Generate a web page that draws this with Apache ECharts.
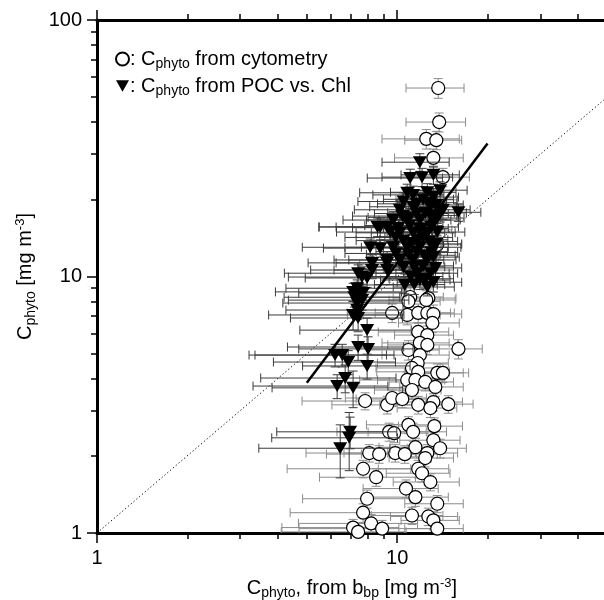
<!DOCTYPE html>
<html>
<head>
<meta charset="utf-8">
<script src="https://cdn.jsdelivr.net/npm/echarts@6/dist/echarts.min.js"></script>
<style>
    html, body { margin: 0; padding: 0; background: #fff; }
    #main { width: 604px; height: 600px; }
</style>
</head>
<body>
<div id="main"></div>
<script>
// rows: [x, y, x error, y error]
const cytoRows = [
    [13.7, 54.3, 3.0, 4.8], [13.8, 40.0, 3.1, 3.4], [12.5, 34.4, 3.6, 3.0], [13.5, 34.0, 2.9, 2.8],
    [13.2, 29.0, 3.4, 2.4], [14.2, 24.4, 3.2, 2.0], [12.9, 19.9, 3.0, 1.6], [11.9, 15.2, 3.3, 1.3],
    [13.6, 13.3, 2.8, 1.1], [10.6, 11.1, 3.1, 0.9], [12.4, 10.6, 3.0, 0.9], [11.05, 8.32, 3.2, 0.7],
    [12.7, 8.24, 3.0, 0.7], [9.62, 7.21, 2.8, 0.6], [10.8, 7.08, 3.1, 0.6], [11.75, 7.21, 3.3, 0.6],
    [12.6, 7.21, 2.9, 0.6], [13.2, 7.14, 3.2, 0.6], [13.1, 6.59, 3.0, 0.55], [11.75, 6.08, 3.1, 0.5],
    [12.6, 5.91, 2.8, 0.5], [11.9, 5.51, 3.0, 0.45], [12.6, 5.41, 3.3, 0.45], [10.9, 5.17, 2.9, 0.45],
    [16.0, 5.22, 3.2, 0.45], [11.9, 4.94, 3.0, 0.4], [11.7, 4.60, 3.1, 0.4], [11.2, 4.40, 2.7, 0.35],
    [11.75, 4.25, 3.2, 0.35], [13.6, 4.21, 3.0, 0.35], [14.2, 4.21, 3.1, 0.35], [10.8, 3.95, 3.3, 0.3],
    [11.5, 3.95, 2.9, 0.3], [12.4, 3.88, 3.0, 0.3], [13.4, 3.71, 3.2, 0.3], [11.2, 3.61, 2.8, 0.3],
    [7.82, 3.27, 3.0, 0.25], [9.26, 3.16, 3.2, 0.25], [9.62, 3.36, 2.9, 0.25], [10.4, 3.33, 3.1, 0.25],
    [11.75, 3.16, 3.0, 0.25], [13.2, 3.24, 3.3, 0.25], [12.9, 3.07, 2.9, 0.25], [14.8, 3.18, 3.1, 0.25],
    [10.9, 2.64, 3.0, 0.2], [13.3, 2.61, 3.2, 0.2], [9.4, 2.48, 3.1, 0.2], [9.77, 2.45, 2.9, 0.2],
    [11.3, 2.48, 3.3, 0.2], [13.2, 2.30, 3.0, 0.18], [13.9, 2.14, 3.1, 0.18], [11.5, 2.16, 2.8, 0.18],
    [9.85, 2.05, 3.2, 0.16], [10.6, 2.03, 3.0, 0.16], [8.07, 2.05, 3.1, 0.16], [8.71, 2.03, 2.9, 0.16],
    [12.6, 2.05, 3.3, 0.16], [12.4, 1.96, 3.0, 0.15], [7.7, 1.78, 3.4, 0.14], [8.51, 1.65, 3.0, 0.13],
    [11.75, 1.78, 3.1, 0.14], [12.1, 1.71, 2.9, 0.13], [12.9, 1.58, 3.2, 0.12], [10.7, 1.49, 3.0, 0.12],
    [11.5, 1.38, 3.3, 0.11], [7.94, 1.36, 3.1, 0.11], [13.6, 1.30, 3.0, 0.1], [7.7, 1.20, 3.3, 0.1],
    [11.2, 1.17, 3.0, 0.09], [12.7, 1.16, 3.2, 0.09], [13.2, 1.12, 2.9, 0.09], [8.19, 1.09, 3.5, 0.09],
    [7.13, 1.05, 3.0, 0.08], [8.91, 1.04, 4.2, 0.08], [13.6, 1.04, 3.0, 0.08], [7.41, 1.01, 3.3, 0.08],
    [10.9, 8.0, 3.0, 0.7], [12.5, 8.1, 3.1, 0.7],
]

const pocRows = [
    [11.9, 27.9, 3.0, 2.2], [12.1, 24.4, 3.2, 2.0], [13.2, 24.9, 2.9, 2.0], [11.05, 24.2, 3.1, 2.0],
    [10.8, 21.2, 3.3, 1.7], [11.3, 20.8, 3.0, 1.7], [12.6, 21.3, 3.1, 1.7], [13.2, 20.4, 2.8, 1.6],
    [13.9, 21.7, 3.2, 1.7], [10.2, 18.2, 3.0, 1.5], [11.3, 18.7, 3.2, 1.5], [12.9, 18.7, 2.9, 1.5],
    [13.9, 17.7, 3.1, 1.4], [16.0, 17.8, 3.0, 1.4], [14.2, 18.2, 3.3, 1.5], [9.7, 16.6, 3.1, 1.3],
    [10.8, 16.6, 2.9, 1.3], [11.9, 16.6, 3.2, 1.3], [13.2, 16.6, 3.0, 1.3], [12.4, 17.7, 3.1, 1.4],
    [8.78, 15.6, 3.3, 1.3], [9.26, 15.6, 3.0, 1.3], [8.6, 15.6, 3.1, 1.3], [9.48, 14.9, 3.2, 1.2],
    [10.2, 14.8, 2.9, 1.2], [11.3, 14.8, 3.1, 1.2], [12.6, 14.8, 3.0, 1.2], [13.6, 14.9, 3.2, 1.2],
    [11.75, 13.9, 3.0, 1.1], [8.13, 13.0, 3.3, 1.0], [8.78, 12.9, 3.1, 1.0], [9.7, 13.0, 3.0, 1.0],
    [10.8, 13.0, 3.2, 1.0], [11.9, 13.0, 2.9, 1.0], [13.2, 13.0, 3.1, 1.0], [8.25, 11.3, 3.2, 0.9],
    [9.26, 11.3, 3.0, 0.9], [9.26, 11.6, 3.1, 0.9], [10.2, 11.6, 3.3, 0.9], [11.3, 11.6, 3.0, 0.9],
    [12.6, 11.6, 3.1, 0.9], [13.2, 11.9, 2.9, 0.9], [7.41, 10.3, 3.2, 0.8], [7.94, 9.87, 3.0, 0.8],
    [9.26, 10.6, 3.1, 0.8], [11.7, 10.3, 3.2, 0.8], [12.9, 10.3, 3.0, 0.8], [11.9, 9.69, 3.1, 0.8],
    [12.6, 9.10, 2.9, 0.7], [10.6, 9.27, 3.0, 0.7], [7.64, 9.95, 3.3, 0.8], [7.13, 8.71, 3.2, 0.7],
    [7.7, 8.63, 3.0, 0.7], [7.36, 9.0, 3.1, 0.7], [7.64, 8.09, 3.3, 0.7], [7.2, 8.3, 3.0, 0.7],
    [7.36, 7.88, 3.2, 0.6], [7.36, 7.4, 3.1, 0.6], [7.13, 7.08, 3.4, 0.9], [7.41, 6.89, 3.0, 0.8],
    [7.94, 6.18, 3.2, 0.7], [7.41, 5.31, 3.1, 0.6], [8.0, 5.22, 3.3, 0.6], [6.21, 4.94, 3.0, 0.5],
    [6.56, 4.94, 3.2, 0.5], [6.87, 4.64, 3.0, 0.5], [7.94, 4.48, 3.1, 0.5], [6.71, 4.02, 3.2, 0.5],
    [6.31, 3.74, 3.0, 0.4], [7.13, 3.68, 3.3, 0.6], [6.97, 2.48, 3.0, 0.35], [6.92, 2.35, 3.1, 0.6],
    [6.46, 2.14, 3.0, 0.5],
    [10.5, 19.6, 3.1, 1.6], [11.6, 19.2, 3.0, 1.5], [12.2, 20.0, 3.2, 1.6], [12.9, 19.4, 2.9, 1.5],
    [13.5, 19.0, 3.1, 1.5], [10.4, 17.2, 3.3, 1.4], [11.0, 17.0, 3.0, 1.4], [11.6, 17.6, 3.2, 1.4],
    [12.9, 17.3, 2.9, 1.4], [13.6, 16.9, 3.1, 1.3], [10.1, 15.5, 3.0, 1.2], [11.0, 15.8, 3.2, 1.3],
    [11.9, 15.4, 2.9, 1.2], [12.2, 14.2, 3.1, 1.1], [13.0, 15.6, 3.0, 1.2], [10.5, 13.8, 3.2, 1.1],
    [11.2, 13.5, 3.0, 1.1], [12.8, 13.7, 3.1, 1.1], [13.5, 13.4, 2.9, 1.1], [9.9, 12.3, 3.2, 1.0],
    [10.9, 12.2, 3.0, 1.0], [11.6, 12.5, 3.1, 1.0], [12.3, 12.1, 3.3, 1.0], [13.0, 12.4, 2.9, 1.0],
    [10.5, 10.9, 3.1, 0.9], [11.4, 10.9, 3.0, 0.9], [12.2, 11.0, 3.2, 0.9], [13.4, 10.8, 3.0, 0.9],
    [11.1, 10.0, 3.1, 0.8], [12.4, 9.8, 3.0, 0.8], [13.2, 9.5, 3.2, 0.8], [11.4, 9.3, 3.0, 0.8],
    [8.25, 10.6, 3.1, 0.8], [9.9, 14.2, 3.2, 1.1],
]

const oneToOne = [[1, 1], [50, 50]]
const fitLine = [[5, 3.85], [20, 33]]

const xRange = [1, 50]
const yRange = [1, 100]

const font = 'Liberation Sans'

const richText = {
    n: { fontSize: 20, fontFamily: font, color: '#000' },
    sub: { fontSize: 14, fontFamily: font, color: '#000', padding: [10, 0, 0, 0] },
    sup: { fontSize: 13, fontFamily: font, color: '#000', padding: [0, 0, 10, 0] },
}

const errorBars = (rows, color, z) => {
    return {
        type: 'custom',
        silent: true,
        clip: true,
        z: z,
        data: rows,
        encode: { x: 0, y: 1 },
        renderItem: (params, api) => {
            let x = api.value(0)
            let y = api.value(1)
            let xe = api.value(2)
            let ye = api.value(3)
            let c = api.coord([x, y])
            let l = api.coord([x - xe, y])
            let r = api.coord([x + xe, y])
            let t = api.coord([x, y + ye])
            let b = api.coord([x, y - ye])
            let h = 4.5
            let style = { stroke: color, lineWidth: 1 }
            let seg = (x1, y1, x2, y2) => ({ type: 'line', shape: { x1, y1, x2, y2 }, style })
            return {
                type: 'group',
                children: [
                    seg(l[0], c[1], r[0], c[1]),
                    seg(l[0], c[1] - h, l[0], c[1] + h),
                    seg(r[0], c[1] - h, r[0], c[1] + h),
                    seg(c[0], t[1], c[0], b[1]),
                    seg(c[0] - h, t[1], c[0] + h, t[1]),
                    seg(c[0] - h, b[1], c[0] + h, b[1]),
                ],
            }
        },
    }
}

const logAxis = (range, extra) => {
    let axis = {
        type: 'log',
        logBase: 10,
        min: range[0],
        max: range[1],
        splitLine: { show: false },
        axisLine: { show: true, onZero: false, lineStyle: { color: '#000', width: 3 } },
        axisTick: { show: true, inside: false, length: 10, lineStyle: { color: '#000', width: 1.5 } },
        minorTick: { show: true, splitNumber: 9, length: 6, lineStyle: { color: '#000', width: 1.5 } },
        axisLabel: { fontSize: 20, fontFamily: font, color: '#000', margin: 15 },
    }
    return Object.assign(axis, extra)
}

const buildOption = () => {
    let option = {
        animation: false,
        backgroundColor: '#fff',
        grid: { left: 97, top: 20, right: -3, bottom: 67, outerBoundsMode: 'none', containLabel: false },
        legend: {
            left: 110,
            top: 44,
            orient: 'vertical',
            itemGap: 5,
            itemWidth: 13,
            itemHeight: 13,
            data: ['cyto', 'poc'],
            formatter: (name) => {
                if (name === 'cyto') {
                    return '{n|: C}{sub|phyto}{n| from cytometry}'
                }
                return '{n|: C}{sub|phyto}{n| from POC vs. Chl}'
            },
            textStyle: { rich: richText, padding: [0, 0, 0, -4] },
        },
        xAxis: [
            logAxis(xRange, {
                position: 'bottom',
                name: '{n|C}{sub|phyto}{n|, from b}{sub|bp}{n| [mg m}{sup|-3}{n|]}',
                nameLocation: 'middle',
                nameGap: 43,
                nameTextStyle: { rich: richText },
                axisLabel: { fontSize: 20, fontFamily: font, color: '#000', margin: 15, showMaxLabel: false },
            }),
            logAxis(xRange, { position: 'top', axisLabel: { show: false } }),
        ],
        yAxis: [
            logAxis(yRange, {
                position: 'left',
                name: '{n|C}{sub|phyto}{n| [mg m}{sup|-3}{n|]}',
                nameLocation: 'middle',
                nameGap: 58,
                nameTextStyle: { rich: richText },
            }),
        ],
        series: [
            {
                name: 'oneToOne',
                type: 'line',
                data: oneToOne,
                showSymbol: false,
                silent: true,
                z: 1,
                lineStyle: { color: '#000', width: 1, type: [1.2, 2.5] },
            },
            errorBars(cytoRows, '#8c8c8c', 2),
            {
                name: 'cyto',
                type: 'scatter',
                data: cytoRows.map(r => [r[0], r[1]]),
                symbol: 'circle',
                symbolSize: 13,
                z: 3,
                itemStyle: { color: '#fff', borderColor: '#000', borderWidth: 1.2, opacity: 1 },
            },
            errorBars(pocRows, '#3a3a3a', 4),
            {
                name: 'poc',
                type: 'scatter',
                data: pocRows.map(r => [r[0], r[1]]),
                symbol: 'path://M0,0L10,0L5,9Z',
                symbolSize: [14, 12],
                z: 5,
                itemStyle: { color: '#000', opacity: 1 },
            },
            {
                name: 'fit',
                type: 'line',
                data: fitLine,
                showSymbol: false,
                silent: true,
                z: 6,
                lineStyle: { color: '#000', width: 2.5 },
            },
        ],
    }
    return option
}

const __main = () => {
    let element = document.querySelector('#main')
    let myChart = echarts.init(element)
    myChart.setOption(buildOption())
}

__main()
</script>
</body>
</html>
